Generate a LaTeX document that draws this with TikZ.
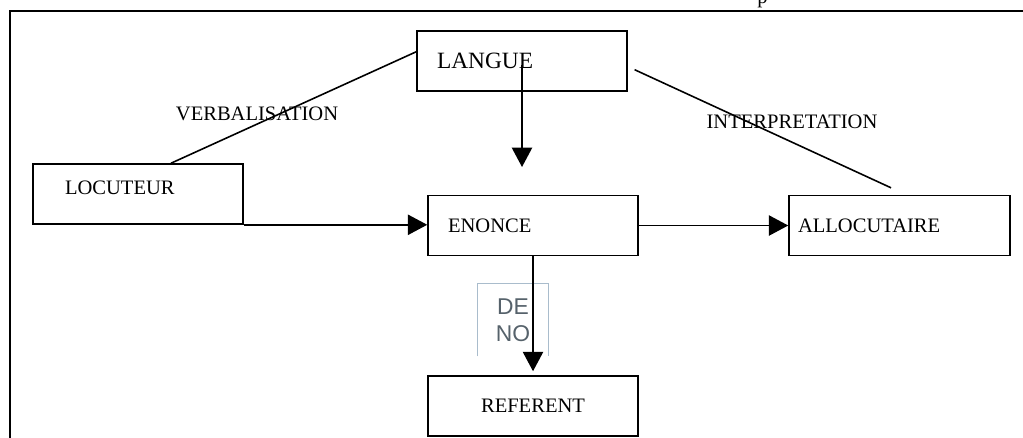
\documentclass[tikz,border=0pt]{standalone}
\usepackage{fontspec}
\setmainfont{Liberation Serif}
\newfontfamily\sansdeno{Liberation Sans}
\usetikzlibrary{arrows.meta}
\definecolor{cadredeno}{HTML}{A9BCCC}
\definecolor{grisdeno}{HTML}{56626B}
\tikzset{
  bloc/.style={draw, line width=0.9pt, minimum height=1.2cm, inner ysep=0pt,
    align=left, font=\fontsize{11.7}{14}\selectfont},
  fleche/.style={line width=0.9pt, -{Triangle[length=11pt,width=11.5pt]}},
  trait/.style={line width=0.9pt},
  etiquette/.style={inner sep=0pt, font=\fontsize{11.7}{14}\selectfont},
}
\begin{document}
\begin{tikzpicture}[x=0.02cm, y=-0.02cm]
  \useasboundingbox (0,0) rectangle (1023,437);
  % cadre exterieur
  \draw[trait] (10,470) -- (10,11) -- (1060,11);
  \node[etiquette, anchor=base west] (haut) at (757,3) {p};

  % les blocs
  \node[bloc, text width=3.4cm, inner xsep=0.4cm,
        font=\fontsize{13.3}{16}\selectfont] (langue) at (522,61) {LANGUE};
  \node[bloc, text width=2.92cm, inner xsep=0.64cm, text depth=0.25cm]
        (locuteur) at (138,194) {LOCUTEUR};
  \node[bloc, text width=3.4cm, inner xsep=0.4cm] (enonce) at (533,225.5) {ENONCE};
  \node[bloc, text width=4.06cm, inner xsep=0.18cm] (allocutaire) at (899.5,225.5) {ALLOCUTAIRE};
  \node[bloc, text width=3.4cm, inner xsep=0.4cm, align=center] (referent) at (533,406) {REFERENT};

  % les liens
  \coordinate (pointe) at (522,167);
  \draw[trait] (langue.175) -- (locuteur.43);
  \draw[trait, shorten <=0.15cm, shorten >=0.33cm] (langue.-3) -- (allocutaire.78);
  \draw[fleche, shorten <=0.08cm] (langue.center) -- (pointe);
  \draw[fleche] (locuteur.south east) -- (locuteur.south east -| enonce.west);
  \draw[fleche] (enonce.east) -- (allocutaire.west);

  % denotation
  \node[inner sep=0pt, minimum width=1.4cm, minimum height=1.44cm, align=center,
        text=grisdeno, font=\sansdeno\fontsize{13}{15.4}\selectfont]
        (deno) at (513,320) {DE\\NO};
  \draw[cadredeno, line width=0.5pt] (deno.south west) |- (deno.north east) -- (deno.south east);
  \draw[fleche, shorten >=0.08cm] (enonce.south) -- (referent.north);

  \node[etiquette] (verbal) at (257,114) {VERBALISATION};
  \node[etiquette] (interp) at (792,121.5) {INTERPRETATION};
\end{tikzpicture}
\end{document}
